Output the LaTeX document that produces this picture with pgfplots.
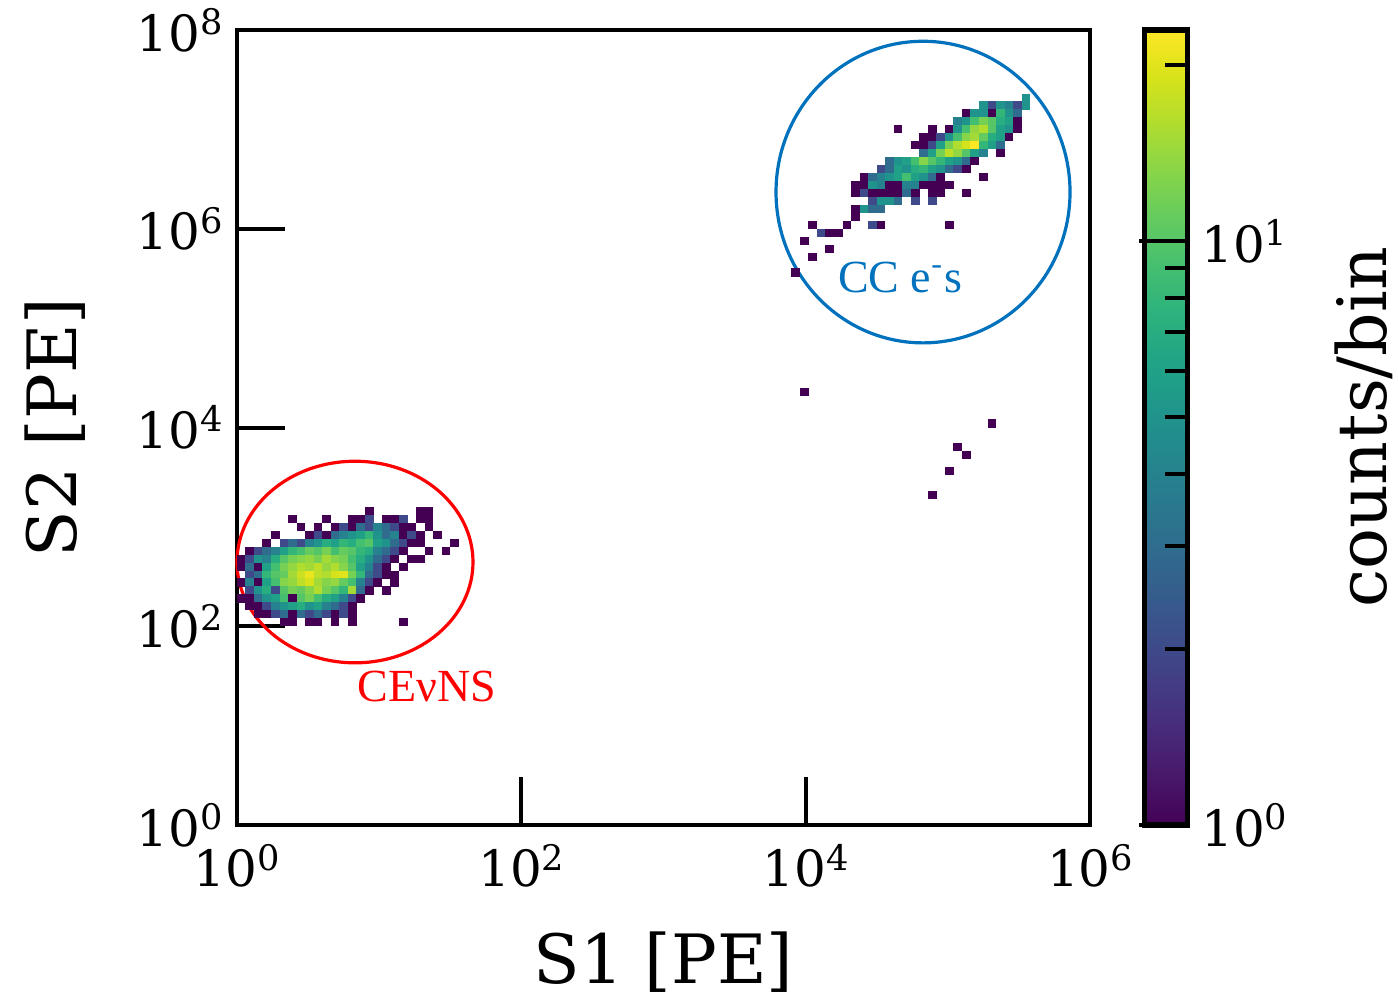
\documentclass[border=0pt]{standalone}
\usepackage{fontspec}
\setmainfont{DejaVu Serif}
\newfontfamily\timesf{Liberation Serif}
\usepackage{pgfplots}
\pgfplotsset{compat=1.18}
\usepgfplotslibrary{colormaps}
\definecolor{mblue}{RGB}{0,114,189}
\pgfdeclareplotmark{bin}{\pgfpathrectangle{\pgfpoint{-1.09pt}{-1.02pt}}{\pgfpoint{2.18pt}{2.04pt}}\pgfusepathqfill}
\newcommand{\tenp}[1]{10\raisebox{4.2pt}{\fontsize{8.8}{10}\selectfont #1}}
\begin{document}
\begin{tikzpicture}
\begin{axis}[name=main, at={(0,0)}, anchor=south west,
  scale only axis, width=213.25pt, height=198.75pt,
  xmode=log, ymode=log, xmin=1, xmax=1e6, ymin=1, ymax=1e8,
  xtick={1,100,10000,1000000}, xticklabels={\tenp{0},\tenp{2},\tenp{4},\tenp{6}},
  ytick={1,100,10000,1000000,100000000}, yticklabels={\tenp{0},\tenp{2},\tenp{4},\tenp{6},\tenp{8}},
  xminorticks=false, yminorticks=false,
  tick align=inside, xtick pos=bottom, ytick pos=left, major tick length=12pt,
  every tick/.style={black, line width=1pt},
  axis line style={line width=1.1pt},
  tick label style={font=\fontsize{12.5}{15}\selectfont},
  xticklabel style={yshift=-1.2pt},
  label style={font=\fontsize{17}{20}\selectfont},
  xlabel={S1 [PE]}, ylabel={S2 [PE]},
  xlabel style={at={(axis description cs:0.5,-0.1723)}, anchor=center},
  ylabel style={at={(axis description cs:-0.2134,0.5)}, anchor=center},
  clip=false,
  colormap name=viridis, point meta min=0, point meta max=1.3617,
  colorbar,
  colorbar style={
    at={(parent axis.north east)}, anchor=north west, xshift=5pt,
    scale only axis, width=10.75pt, height=198.75pt,
    ytick={0,1}, yticklabels={\tenp{0},\tenp{1}},
    minor ytick={0.30103,0.47712,0.60206,0.69897,0.77815,0.84510,0.90309,0.95424,1.30103},
    ytick pos=right, yticklabel pos=right, tick align=inside,
    major tick length=12pt, minor tick length=5.5pt,
    every tick/.style={black, line width=1pt},
    axis line style={line width=1.3pt},
    tick label style={font=\fontsize{12.5}{15}\selectfont},
    ylabel={counts/bin},
    ylabel style={font=\fontsize{17}{20}\selectfont, at={(axis description cs:5.116,0.5)}, anchor=center},
  },
]
\addplot[scatter, only marks, mark=bin,
  scatter/use mapped color={draw=mapped color, fill=mapped color},
  point meta={log10(\thisrow{c})}]
  table[x expr={10^(0.06*(\thisrow{i}+0.5))}, y expr={10^(0.08*(\thisrow{j}+0.5))}, row sep=\\]{
i j c\\
15 39 1\\ 21 39 1\\ 22 39 1\\
6 38 1\\ 10 38 1\\ 13 38 1\\ 14 38 1\\ 15 38 2\\ 17 38 1\\ 18 38 1\\ 19 38 2\\ 21 38 1\\ 22 38 1\\
7 37 1\\ 9 37 1\\ 11 37 1\\ 12 37 2\\ 13 37 1\\ 14 37 3\\ 15 37 2\\ 16 37 4\\ 17 37 3\\ 18 37 2\\ 19 37 1\\ 20 37 1\\ 22 37 1\\
4 36 1\\ 8 36 1\\ 9 36 2\\ 10 36 1\\ 11 36 3\\ 12 36 4\\ 13 36 5\\ 14 36 6\\ 15 36 8\\ 16 36 5\\ 17 36 3\\ 18 36 4\\ 19 36 1\\ 20 36 2\\ 21 36 1\\ 23 36 1\\
3 35 1\\ 5 35 2\\ 6 35 3\\ 7 35 2\\ 8 35 4\\ 9 35 5\\ 10 35 7\\ 11 35 6\\ 12 35 8\\ 13 35 7\\ 14 35 9\\ 15 35 10\\ 16 35 6\\ 17 35 5\\ 18 35 3\\ 19 35 2\\ 20 35 1\\ 21 35 1\\ 25 35 1\\
1 34 1\\ 2 34 2\\ 3 34 3\\ 4 34 4\\ 5 34 6\\ 6 34 8\\ 7 34 9\\ 8 34 11\\ 9 34 10\\ 10 34 12\\ 11 34 9\\ 12 34 11\\ 13 34 10\\ 14 34 8\\ 15 34 7\\ 16 34 4\\ 17 34 3\\ 18 34 2\\ 19 34 1\\ 22 34 1\\ 24 34 1\\
0 33 1\\ 1 33 2\\ 2 33 5\\ 3 33 4\\ 4 33 7\\ 5 33 10\\ 6 33 12\\ 7 33 13\\ 8 33 14\\ 9 33 12\\ 10 33 15\\ 11 33 13\\ 12 33 12\\ 13 33 9\\ 14 33 7\\ 15 33 5\\ 16 33 3\\ 17 33 2\\ 18 33 1\\ 20 33 1\\ 21 33 1\\
0 32 1\\ 1 32 3\\ 2 32 1\\ 3 32 6\\ 4 32 9\\ 5 32 12\\ 6 32 14\\ 7 32 16\\ 8 32 15\\ 9 32 17\\ 10 32 14\\ 11 32 16\\ 12 32 13\\ 13 32 10\\ 14 32 6\\ 15 32 4\\ 16 32 2\\ 17 32 1\\ 19 32 1\\
1 31 2\\ 2 31 3\\ 3 31 8\\ 4 31 10\\ 5 31 11\\ 6 31 15\\ 7 31 18\\ 8 31 21\\ 9 31 17\\ 10 31 16\\ 11 31 19\\ 12 31 20\\ 13 31 12\\ 14 31 8\\ 15 31 3\\ 16 31 2\\ 17 31 1\\ 18 31 1\\
0 30 1\\ 1 30 4\\ 2 30 1\\ 3 30 6\\ 4 30 9\\ 5 30 13\\ 6 30 14\\ 7 30 17\\ 8 30 19\\ 9 30 15\\ 10 30 13\\ 11 30 14\\ 12 30 11\\ 13 30 9\\ 14 30 4\\ 15 30 2\\ 16 30 1\\ 18 30 1\\
1 29 2\\ 2 29 5\\ 3 29 7\\ 4 29 2\\ 5 29 10\\ 6 29 12\\ 7 29 11\\ 8 29 13\\ 9 29 16\\ 10 29 12\\ 11 29 10\\ 12 29 8\\ 13 29 15\\ 14 29 3\\ 15 29 1\\ 17 29 1\\
0 28 1\\ 1 28 1\\ 2 28 3\\ 3 28 5\\ 4 28 6\\ 5 28 9\\ 6 28 1\\ 7 28 10\\ 8 28 12\\ 9 28 9\\ 10 28 7\\ 11 28 6\\ 12 28 4\\ 13 28 2\\ 14 28 1\\
1 27 1\\ 2 27 1\\ 3 27 2\\ 4 27 4\\ 5 27 5\\ 6 27 6\\ 7 27 7\\ 8 27 5\\ 9 27 6\\ 10 27 4\\ 11 27 3\\ 12 27 2\\ 13 27 1\\
2 26 1\\ 3 26 1\\ 4 26 2\\ 5 26 3\\ 6 26 1\\ 7 26 3\\ 8 26 2\\ 9 26 3\\ 10 26 2\\ 11 26 1\\ 12 26 2\\ 13 26 1\\
5 25 1\\ 6 25 1\\ 8 25 1\\ 9 25 1\\ 11 25 1\\ 13 25 1\\ 19 25 1\\
66 54 1\\ 88 50 1\\ 84 47 1\\ 85 46 1\\ 83 44 1\\ 81 41 1\\
92 91 5\\
87 90 5\\ 88 90 2\\ 89 90 5\\ 90 90 4\\ 91 90 2\\ 92 90 5\\
85 89 1\\ 86 89 5\\ 87 89 5\\ 88 89 1\\ 89 89 8\\ 90 89 5\\ 91 89 3\\
84 88 4\\ 85 88 5\\ 86 88 9\\ 87 88 12\\ 88 88 10\\ 89 88 7\\ 90 88 6\\ 91 88 1\\
77 87 1\\ 81 87 1\\ 83 87 1\\ 84 87 5\\ 85 87 9\\ 86 87 14\\ 87 87 16\\ 88 87 10\\ 89 87 6\\ 90 87 5\\ 91 87 1\\
80 86 1\\ 81 86 1\\ 82 86 2\\ 83 86 5\\ 84 86 9\\ 85 86 13\\ 86 86 15\\ 87 86 11\\ 88 86 7\\ 89 86 6\\ 90 86 1\\
79 85 1\\ 80 85 1\\ 81 85 2\\ 82 85 6\\ 83 85 12\\ 84 85 16\\ 85 85 19\\ 86 85 23\\ 87 85 8\\ 88 85 6\\ 89 85 3\\
80 84 3\\ 81 84 6\\ 82 84 12\\ 83 84 17\\ 84 84 14\\ 85 84 10\\ 86 84 6\\ 87 84 4\\ 89 84 1\\
76 83 3\\ 77 83 5\\ 78 83 6\\ 79 83 9\\ 80 83 13\\ 81 83 10\\ 82 83 8\\ 83 83 6\\ 84 83 5\\ 85 83 3\\ 86 83 1\\
75 82 2\\ 76 82 3\\ 77 82 6\\ 78 82 5\\ 79 82 7\\ 80 82 8\\ 81 82 6\\ 82 82 5\\ 83 82 3\\ 84 82 2\\ 85 82 1\\
73 81 1\\ 74 81 3\\ 75 81 4\\ 76 81 5\\ 77 81 6\\ 78 81 9\\ 79 81 6\\ 80 81 5\\ 81 81 3\\ 82 81 1\\ 87 81 1\\
72 80 1\\ 73 80 1\\ 74 80 5\\ 75 80 4\\ 76 80 1\\ 77 80 1\\ 78 80 4\\ 79 80 4\\ 80 80 1\\ 81 80 1\\ 82 80 1\\ 83 80 1\\
72 79 1\\ 73 79 2\\ 74 79 1\\ 75 79 1\\ 76 79 1\\ 77 79 1\\ 78 79 3\\ 79 79 1\\ 81 79 1\\ 82 79 1\\ 85 79 1\\
74 78 2\\ 75 78 5\\ 76 78 5\\ 77 78 3\\ 79 78 2\\ 81 78 2\\
72 77 1\\ 73 77 5\\ 74 77 3\\ 75 77 3\\
72 76 1\\
67 75 1\\ 71 75 1\\ 74 75 2\\ 75 75 1\\ 83 75 1\\
68 74 2\\ 69 74 1\\ 70 74 1\\
66 73 1\\
69 72 1\\
67 71 1\\
65 69 1\\
};
\draw[red, line width=0.8pt] (axis cs:6.76,443) ellipse [x radius=29.5pt, y radius=25.2pt];
\draw[mblue, line width=0.8pt] (axis cs:66900,2340000) ellipse [x radius=36.75pt, y radius=37.7pt];
\node[red, font=\timesf\fontsize{11.5}{13}\selectfont] at (axis cs:21.7,24.5) {CEνNS};
\node[mblue, font=\timesf\fontsize{11.5}{13}\selectfont] at (axis cs:46100,326900) {CC e\textsuperscript{-}s};
\end{axis}
\pgfresetboundingbox
\path (main.south west) ++(-59.25pt,-43.5pt) rectangle ++(349.5pt,249.75pt);
\end{tikzpicture}
\end{document}
